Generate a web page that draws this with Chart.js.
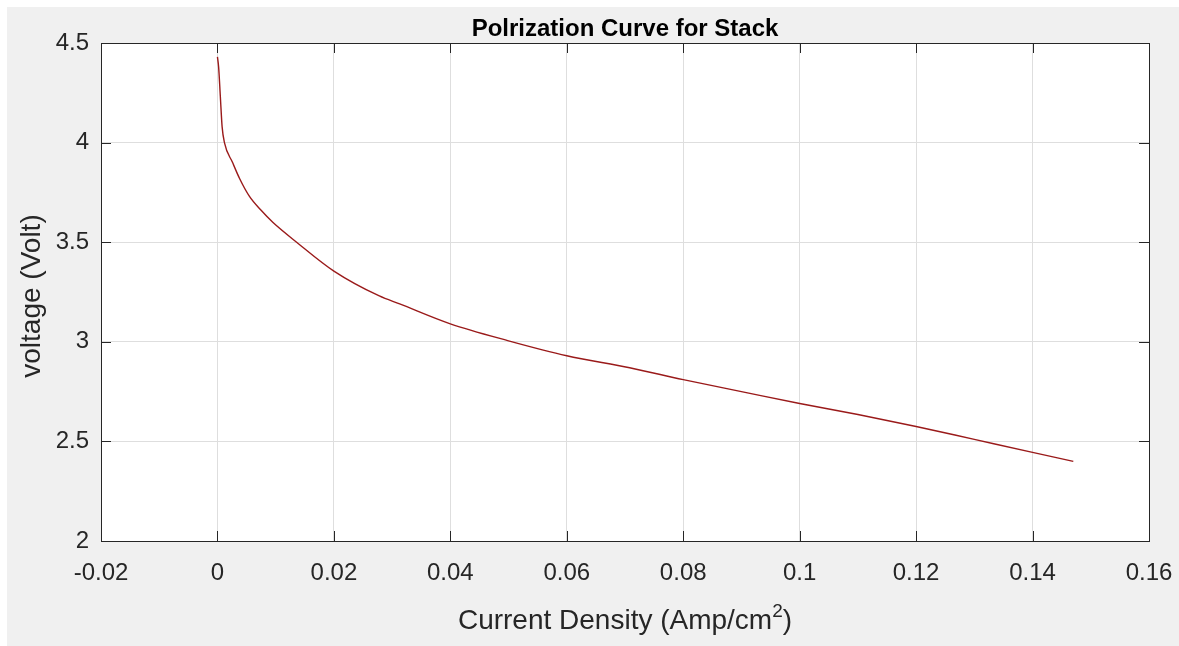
<!DOCTYPE html>
<html lang="en">
<head>
  <meta charset="UTF-8" />
  <title>Polrization Curve for Stack</title>
  <script src="https://cdn.jsdelivr.net/npm/chart.js"></script>
  <style>
    body { margin: 0; background: #ffffff; }
    #wrap { width: 1179px; height: 646px; }
  </style>
</head>
<body>
  <div id="wrap"><canvas id="polChart" width="1179" height="646"></canvas></div>

  <script>
    // stack polarization data: current density (A/cm^2) vs stack voltage (V)
    const currentDensity = [0, 0.0002, 0.0005, 0.0008, 0.0012, 0.0026, 0.0038, 0.0055, 0.0075,
      0.0095, 0.0136, 0.02, 0.0278, 0.0313, 0.04, 0.05, 0.06, 0.0708, 0.08,
      0.09, 0.1, 0.11, 0.12, 0.13, 0.14, 0.147];
    const stackVoltage = [4.43, 4.38, 4.23, 4.08, 4.0, 3.9, 3.82, 3.73, 3.66,
      3.6, 3.5, 3.355, 3.23, 3.19, 3.09, 3.005, 2.93, 2.87, 2.81,
      2.75, 2.69, 2.635, 2.575, 2.51, 2.445, 2.40];

    const xTicks = [-0.02, 0, 0.02, 0.04, 0.06, 0.08, 0.1, 0.12, 0.14, 0.16];
    const xTickLabels = ['-0.02', '0', '0.02', '0.04', '0.06', '0.08', '0.1', '0.12', '0.14', '0.16'];
    const yTicks = [2, 2.5, 3, 3.5, 4, 4.5];
    const yTickLabels = ['2', '2.5', '3', '3.5', '4', '4.5'];

    const FONT = '"Liberation Sans", Arial, Helvetica, sans-serif';
    const INK = '#262626';

    // gray figure background and white axes face
    const figureBackground = {
      id: 'figureBackground',
      beforeDraw(chart) {
        const { ctx, width, height, chartArea: a } = chart;
        ctx.save();
        ctx.fillStyle = '#ffffff';
        ctx.fillRect(0, 0, width, height);
        ctx.fillStyle = '#f0f0f0';
        ctx.fillRect(7, 7, width - 7, height - 7);
        ctx.fillStyle = '#ffffff';
        ctx.fillRect(a.left, a.top, a.right - a.left, a.bottom - a.top);
        ctx.restore();
      }
    };

    // box around the axes, inward tick marks on all sides, title and axis labels
    const axesDecor = {
      id: 'axesDecor',
      afterDraw(chart) {
        const { ctx, chartArea: a, scales } = chart;
        const tickLen = 10;
        ctx.save();
        ctx.strokeStyle = INK;
        ctx.lineWidth = 1;
        ctx.strokeRect(Math.round(a.left) + 0.5, Math.round(a.top) + 0.5,
          Math.round(a.right - a.left), Math.round(a.bottom - a.top));

        ctx.beginPath();
        xTicks.forEach(v => {
          const px = Math.round(scales.x.getPixelForValue(v)) + 0.5;
          ctx.moveTo(px, a.bottom); ctx.lineTo(px, a.bottom - tickLen);
          ctx.moveTo(px, a.top); ctx.lineTo(px, a.top + tickLen);
        });
        yTicks.forEach(v => {
          const py = Math.round(scales.y.getPixelForValue(v)) + 0.5;
          ctx.moveTo(a.left, py); ctx.lineTo(a.left + tickLen, py);
          ctx.moveTo(a.right, py); ctx.lineTo(a.right - tickLen, py);
        });
        ctx.stroke();

        const cx = (a.left + a.right) / 2;
        const cy = (a.top + a.bottom) / 2;
        ctx.fillStyle = '#000000';

        // title
        ctx.font = 'bold 24px ' + FONT;
        ctx.textAlign = 'center';
        ctx.textBaseline = 'alphabetic';
        ctx.fillText('Polrization Curve for Stack', cx, a.top - 7);

        // x label with superscript
        ctx.fillStyle = INK;
        const main = 'Current Density (Amp/cm';
        ctx.font = '28px ' + FONT;
        const wMain = ctx.measureText(main).width;
        const wClose = ctx.measureText(')').width;
        ctx.font = '19px ' + FONT;
        const wSup = ctx.measureText('2').width;
        const total = wMain + wSup + wClose;
        const x0 = cx - total / 2;
        const base = a.bottom + 88;
        ctx.textAlign = 'left';
        ctx.font = '28px ' + FONT;
        ctx.fillText(main, x0, base);
        ctx.font = '19px ' + FONT;
        ctx.fillText('2', x0 + wMain, base - 12);
        ctx.font = '28px ' + FONT;
        ctx.fillText(')', x0 + wMain + wSup, base);

        // y label
        ctx.translate(32, cy + 4);
        ctx.rotate(-Math.PI / 2);
        ctx.textAlign = 'center';
        ctx.textBaseline = 'middle';
        ctx.fillText('voltage (Volt)', 0, 0);
        ctx.restore();
      }
    };

    new Chart(document.getElementById('polChart'), {
      type: 'scatter',
      data: {
        datasets: [{
          label: 'Stack',
          data: currentDensity.map((c, i) => ({ x: c, y: stackVoltage[i] })),
          showLine: true,
          borderColor: '#9a1a1a',
          borderWidth: 1.4,
          pointRadius: 0,
          cubicInterpolationMode: 'monotone'
        }]
      },
      options: {
        responsive: false,
        animation: false,
        layout: { padding: { left: 0, top: 43, right: 30, bottom: 0 } },
        plugins: {
          legend: { display: false },
          tooltip: { enabled: false },
          title: { display: false }
        },
        scales: {
          x: {
            type: 'linear',
            min: -0.02,
            max: 0.16,
            afterBuildTicks: scale => { scale.ticks = xTicks.map(v => ({ value: v })); },
            afterFit: scale => {
              scale.height = 105;
              scale.paddingLeft = 0;
              scale.paddingRight = 0;
            },
            ticks: {
              autoSkip: false,
              maxRotation: 0,
              padding: 18,
              color: INK,
              font: { family: FONT, size: 24 },
              callback: v => xTickLabels[xTicks.findIndex(t => Math.abs(t - v) < 1e-9)]
            },
            grid: { color: '#dedede', lineWidth: 1, drawTicks: false },
            border: { display: false }
          },
          y: {
            type: 'linear',
            min: 2,
            max: 4.5,
            afterBuildTicks: scale => { scale.ticks = yTicks.map(v => ({ value: v })); },
            afterFit: scale => {
              scale.width = 101;
              scale.paddingTop = 0;
              scale.paddingBottom = 0;
            },
            ticks: {
              autoSkip: false,
              padding: 12,
              color: INK,
              font: { family: FONT, size: 24 },
              callback: v => yTickLabels[yTicks.findIndex(t => Math.abs(t - v) < 1e-9)]
            },
            grid: { color: '#dedede', lineWidth: 1, drawTicks: false },
            border: { display: false }
          }
        }
      },
      plugins: [figureBackground, axesDecor]
    });
  </script>
</body>
</html>
